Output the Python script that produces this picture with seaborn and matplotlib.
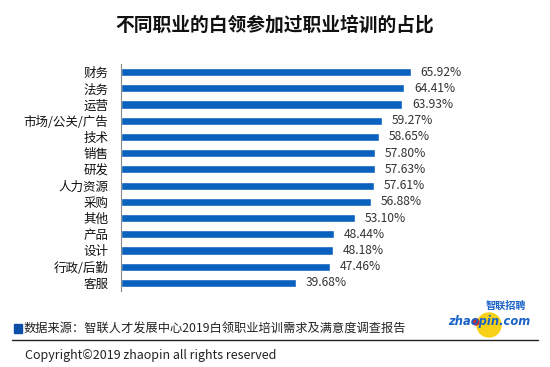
import matplotlib
matplotlib.use("Agg")
import matplotlib.pyplot as plt
import seaborn as sns
import pandas as pd
import numpy as np
from matplotlib.patches import Rectangle, Ellipse
from matplotlib.lines import Line2D

categories = ["财务", "法务", "运营", "市场/公关/广告", "技术", "销售", "研发",
              "人力资源", "采购", "其他", "产品", "设计", "行政/后勤", "客服"]
values = [65.92, 64.41, 63.93, 59.27, 58.65, 57.80, 57.63, 57.61, 56.88,
          53.10, 48.44, 48.18, 47.46, 39.68]
title = "不同职业的白领参加过职业培训的占比"
source = "数据来源：智联人才发展中心2019白领职业培训需求及满意度调查报告"
copyright_text = "Copyright©2019 zhaopin all rights reserved"

sns.set_theme(style="white")
plt.rcParams['font.family'] = ['Noto Sans CJK SC', 'DejaVu Sans']

W, H = 550, 367
def fx(x): return x / W
def fy(y): return 1 - y / H

df = pd.DataFrame({"cat": categories, "val": values})

fig = plt.figure(figsize=(5.5, 3.67), dpi=100)
ax = fig.add_axes([fx(121), fy(291), 352 / W, (291 - 64) / H])
sns.barplot(data=df, x="val", y="cat", orient="h", color="#0A62BE",
            width=0.5, ax=ax, saturation=1)
ax.set_xlim(0, 80)
ax.set_ylim(len(categories) - 0.5, -0.5)
ax.set_xlabel("")
ax.set_ylabel("")
ax.set_xticks([])
for s in ["top", "right", "bottom"]:
    ax.spines[s].set_visible(False)
ax.spines["left"].set_color("#888888")
ax.spines["left"].set_linewidth(0.8)
ax.tick_params(axis="y", which="major", length=0, pad=9, labelsize=9,
               labelcolor="#111111")
ax.set_yticks(np.arange(-0.5, len(categories), 1.0), minor=True)
ax.tick_params(axis="y", which="minor", length=4, color="#888888", width=0.8)

ax.bar_label(ax.containers[0], labels=[f"{v:.2f}%" for v in values],
             padding=7, fontsize=8.7, color="#333333")

fig.text(fx(275), fy(25), title, ha="center", va="center", fontsize=13.5,
         fontweight="bold", color="#111111")

fig.patches.append(Rectangle((fx(14), fy(333)), 8 / W, 9 / H,
                             transform=fig.transFigure, color="#0A4EA8"))
fig.text(fx(24), fy(329), source, ha="left", va="center", fontsize=8.8,
         color="#222222")
fig.lines.append(Line2D([fx(12), fx(538)], [fy(340), fy(340)],
                        transform=fig.transFigure, color="#222222", lw=1.0))
fig.text(fx(25), fy(355), copyright_text, ha="left", va="center",
         fontsize=9, color="#222222")

# logo
fig.patches.append(Ellipse((fx(489), fy(325)), 24 / W, 24 / H,
                           transform=fig.transFigure, color="#F7D117",
                           zorder=0))
fig.text(fx(506), fy(306), "智联招聘", ha="center", va="center",
         fontsize=7.3, color="#1A63C6", fontweight="bold", style="italic")
fig.text(fx(489), fy(321), "zhaopin.com", ha="center", va="center",
         fontsize=8.3, color="#1A63C6", fontweight="bold", style="italic",
         family="DejaVu Sans")
fig.patches.append(Ellipse((fx(476), fy(322)), 6 / W, 6 / H,
                           transform=fig.transFigure, color="#D8262C",
                           zorder=3))

fig.savefig("out.png", dpi=100)
